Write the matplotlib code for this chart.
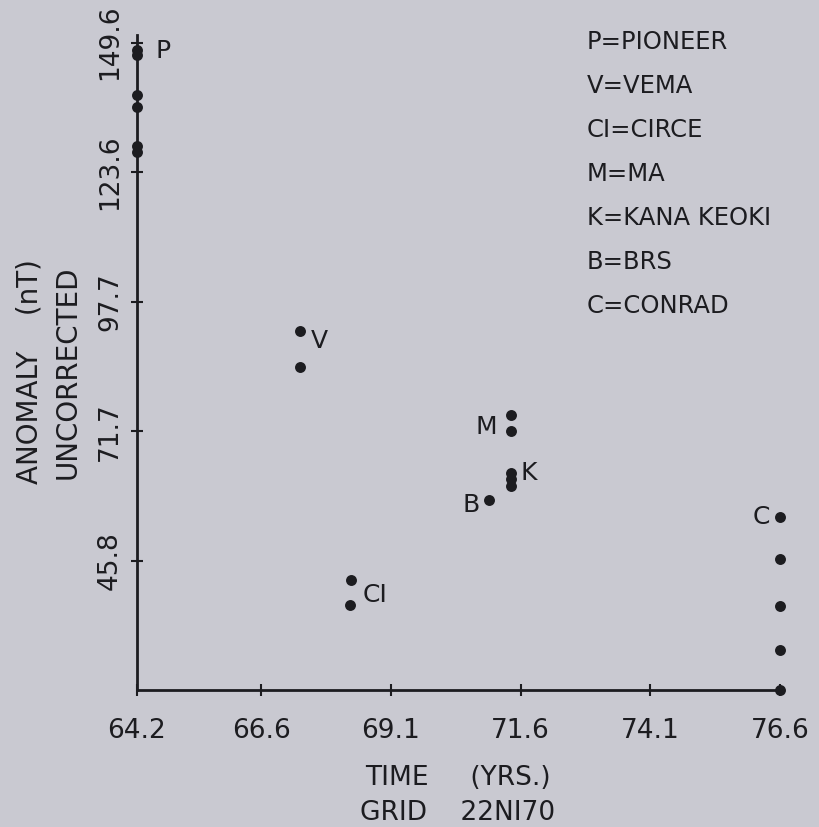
import matplotlib
matplotlib.use('Agg')
import matplotlib.pyplot as plt

# ===== DANE =====
pioneer_x = [64.2, 64.2, 64.2, 64.2, 64.2, 64.2]
pioneer_y = [148.2, 147.2, 139.2, 136.8, 128.8, 127.6]
vema_x = [67.35, 67.35]
vema_y = [91.9, 84.5]
circe_x = [68.33, 68.30]
circe_y = [41.8, 36.8]
ma_x = [71.41, 71.41]
ma_y = [74.9, 71.75]
kana_x = [71.41, 71.41, 71.41]
kana_y = [63.4, 62.1, 60.8]
brs_x = [70.99]
brs_y = [58.0]
conrad_x = [76.6, 76.6, 76.6, 76.6, 76.6]
conrad_y = [54.6, 46.2, 36.6, 27.8, 19.85]

x_ticks = [64.2, 66.6, 69.1, 71.6, 74.1, 76.6]
x_ticklabels = ['64.2', '66.6', '69.1', '71.6', '74.1', '76.6']
y_ticks = [45.8, 71.7, 97.7, 123.6, 149.6]
y_ticklabels = ['45.8', '71.7', '97.7', '123.6', '149.6']

legend_lines = ['P=PIONEER', 'V=VEMA', 'CI=CIRCE', 'M=MA',
                'K=KANA KEOKI', 'B=BRS', 'C=CONRAD']

BG = '#c9c9d1'
INK = '#1c1c20'

fig = plt.figure(figsize=(8.2, 8.27), dpi=100, facecolor=BG)
ax = fig.add_axes([0.167, 0.1657, 0.784, 0.7923], facecolor=BG)

series = [(pioneer_x, pioneer_y), (vema_x, vema_y), (circe_x, circe_y),
          (ma_x, ma_y), (kana_x, kana_y), (brs_x, brs_y), (conrad_x, conrad_y)]
for xs, ys in series:
    ax.scatter(xs, ys, s=62, color=INK, zorder=3, clip_on=False, linewidths=0)

# etykiety punktow
lab = dict(fontsize=18, color=INK, va='center')
ax.text(64.55, 148.0, 'P', ha='left', **lab)
ax.text(67.55, 89.8, 'V', ha='left', **lab)
ax.text(68.55, 38.8, 'CI', ha='left', **lab)
ax.text(71.15, 72.6, 'M', ha='right', **lab)
ax.text(71.6, 63.4, 'K', ha='left', **lab)
ax.text(70.82, 56.9, 'B', ha='right', **lab)
ax.text(76.42, 54.6, 'C', ha='right', **lab)

ax.set_xlim(64.2, 76.6)
ax.set_ylim(19.85, 151.2)
ax.set_xticks(x_ticks)
ax.set_xticklabels(x_ticklabels, fontsize=19, color=INK)
ax.set_yticks(y_ticks)
ax.set_yticklabels(y_ticklabels, fontsize=19, color=INK, rotation=90, va='center')
ax.tick_params(direction='inout', length=8, width=1.5, color=INK)
ax.tick_params(axis='x', pad=16)
ax.tick_params(axis='y', pad=6)

for s in ['top', 'right']:
    ax.spines[s].set_visible(False)
for s in ['left', 'bottom']:
    ax.spines[s].set_linewidth(2)
    ax.spines[s].set_color(INK)

# opisy osi
fig.text(458 / 820, 1 - 778 / 827, 'TIME     (YRS.)', fontsize=19, color=INK, ha='center', va='center')
fig.text(458 / 820, 1 - 813 / 827, 'GRID    22NI70', fontsize=19, color=INK, ha='center', va='center')
fig.text(30 / 820, 1 - 372 / 827, 'ANOMALY    (nT)', fontsize=20, color=INK, ha='center', va='center', rotation=90)
fig.text(68 / 820, 1 - 372 / 827, 'UNCORRECTED', fontsize=20, color=INK, ha='center', va='center', rotation=90)

for i, t in enumerate(legend_lines):
    fig.text(587 / 820, 1 - (42 + 44 * i) / 827, t, fontsize=17.5, color=INK, ha='left', va='center')

fig.savefig('out.png', dpi=100, facecolor=BG)
